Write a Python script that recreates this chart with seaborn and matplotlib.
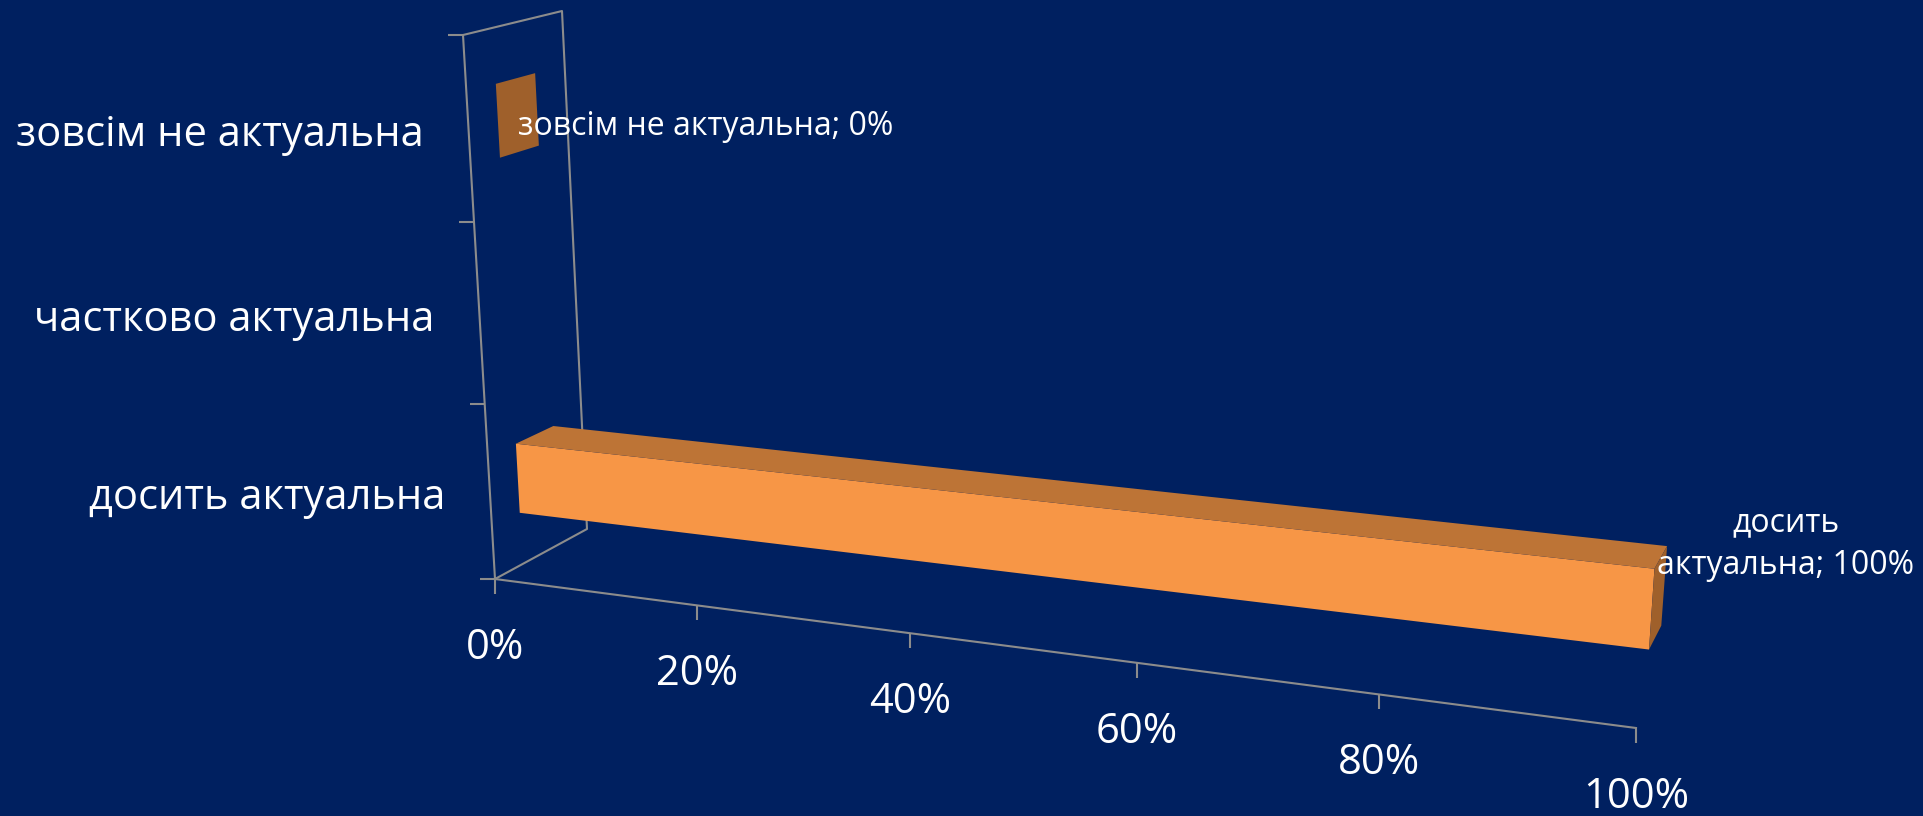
import numpy as np
import pandas as pd
import matplotlib
matplotlib.use("Agg")
import matplotlib.pyplot as plt
import matplotlib.transforms as mtransforms
from matplotlib.patches import Polygon
import seaborn as sns

# Survey answers and their shares (the middle answer has no value in the source chart)
categories = ["зовсім не актуальна", "частково актуальна", "досить актуальна"]
shares = [0.0, np.nan, 1.0]
x_ticks = [0.0, 0.2, 0.4, 0.6, 0.8, 1.0]

BG = "#002060"
FRONT = "#F79646"
TOP = "#BD7436"
SIDE = "#9F602B"
AXIS = "#8C8C8C"
BAR_W = 0.4

plt.rcParams["font.family"] = ["Open Sans", "DejaVu Sans"]

fig = plt.figure(figsize=(19.23, 8.16), dpi=100, facecolor=BG)
ax = fig.add_axes([0, 0, 1, 1])

df = pd.DataFrame({"answer": categories, "share": shares})
sns.barplot(data=df, x="share", y="answer", order=categories, color=FRONT,
            saturation=1, width=BAR_W, errorbar=None, linewidth=0, ax=ax)
ax.set_xlim(0, 1)
ax.set_ylim(len(categories) - 0.5, -0.5)
ax.set_axis_off()

# Excel-like 3D view: (value, category, depth) -> image pixels (measured top-down)
x0 = np.array([495.0, 579.0])     # 0% corner of the floor
x1 = np.array([1636.0, 728.0])    # 100% corner of the floor
persp = -0.1417                   # foreshortening along the value axis
slope = x1 * (1 + persp) - x0
rise0, rise1 = np.array([-32.0, -544.0]), np.array([40.0, -634.0])
dep_bot0, dep_top0 = np.array([92.0, -50.0]), np.array([99.0, -24.0])
dep_bot1, dep_top1 = np.array([30.0, -62.0]), np.array([37.0, -38.0])
to_frac = ax.transScale + ax.transLimits


def project(u, y, d):
    frac = to_frac.transform(np.column_stack([u, y]))
    fu, fv = frac[:, 0], frac[:, 1]
    fv = (fv - 0.05 * fv * (1 - fv))[:, None]
    base = (x0 + np.outer(fu, slope)) / (1 + persp * fu)[:, None]
    s = ((base[:, 0] - x0[0]) / (x1[0] - x0[0]))[:, None]
    rise = rise0 + s * (rise1 - rise0)
    depth = (dep_bot0 + s * (dep_bot1 - dep_bot0)) * (1 - fv) + (dep_top0 + s * (dep_top1 - dep_top0)) * fv
    px = base + fv * rise + d[:, None] * depth
    return np.column_stack([px[:, 0], fig.bbox.height - px[:, 1]])


class Box(mtransforms.Transform):
    input_dims = output_dims = 2

    def __init__(self, plane, level):
        super().__init__()
        self.plane, self.level = plane, level

    def transform_non_affine(self, values):
        a, b = np.asarray(values, dtype=float).reshape(-1, 2).T
        c = np.full_like(a, self.level)
        if self.plane == "front":   # (value, category) at a fixed depth
            return project(a, b, c)
        if self.plane == "side":    # (depth, category) at a fixed value
            return project(c, b, a)
        return project(a, c, b)     # top: (value, depth) at a fixed category edge


def shifted(tr, dx, dy):
    return tr + mtransforms.Affine2D().translate(dx, dy)


# walls: category axis, top edge, back edge, floor edge
lo, hi = len(categories) - 0.5, -0.5
ax.plot([0, 0, 1, 1, 0], [lo, hi, hi, lo, lo], color=AXIS, lw=1.5,
        transform=Box("side", 0), clip_on=False, zorder=1, scalex=False, scaley=False)
# value axis with its ticks
ax.plot([0, 1], [lo, lo], color=AXIS, lw=1.5, transform=Box("front", 0),
        clip_on=False, zorder=1, scalex=False, scaley=False)
ax.plot(x_ticks, [lo] * len(x_ticks), ls="none", marker=3, ms=10.5, mew=1.5, color=AXIS,
        transform=Box("front", 0), clip_on=False, zorder=1, scalex=False, scaley=False)
cat_edges = np.arange(len(categories) + 1) - 0.5
ax.plot([0] * len(cat_edges), cat_edges, ls="none", marker=0, ms=10.5, mew=1.5, color=AXIS,
        transform=Box("front", 0), clip_on=False, zorder=1, scalex=False, scaley=False)

# turn the flat seaborn bars into boxes
for p in list(ax.patches):
    x, y0, w, h = p.get_x(), p.get_y(), p.get_width(), p.get_height()
    if not np.isfinite(w):
        p.remove()
        continue
    d0, d1 = 0.5 - h / 2, 0.5 + h / 2
    p.set_transform(Box("front", d0))
    p.set_clip_on(False)
    p.set_zorder(3)
    ax.add_patch(Polygon([(x, d0), (x + w, d0), (x + w, d1), (x, d1)], closed=True,
                         transform=Box("top", y0), facecolor=TOP, edgecolor="none",
                         clip_on=False, zorder=3))
    ax.add_patch(Polygon([(d0, y0), (d1, y0), (d1, y0 + h), (d0, y0 + h)], closed=True,
                         transform=Box("side", x + w), facecolor=SIDE, edgecolor="none",
                         clip_on=False, zorder=3))

# tick labels
for t in x_ticks:
    ax.text(t, lo, f"{t:.0%}", transform=shifted(Box("front", 0), 0, -80),
            ha="center", va="baseline", color="white", fontsize=30, zorder=5)
for i, cat in enumerate(categories):
    ax.text(0, i, cat, transform=shifted(Box("front", 0), -45, -17),
            ha="right", va="baseline", color="white", fontsize=30, zorder=5)

# data labels
d_front = 0.5 - BAR_W / 2
for i, (cat, val) in enumerate(zip(categories, shares)):
    if np.isnan(val):
        continue
    text = f"{cat}; {val:.0%}"
    if val >= ax.get_xlim()[1]:
        # no room past the end of the axis, wrap it like Excel does
        text = text.replace(" ", "\n", 1)
        tr, ha, va = shifted(Box("front", d_front), 134, 65), "center", "center"
    else:
        tr, ha, va = shifted(Box("front", d_front), 20, -14), "left", "baseline"
    ax.text(val, i, text, transform=tr, ha=ha, va=va, multialignment="center",
            linespacing=1.4, color="white", fontsize=23, zorder=6)

fig.savefig("out.png", dpi=100, facecolor=fig.get_facecolor())
